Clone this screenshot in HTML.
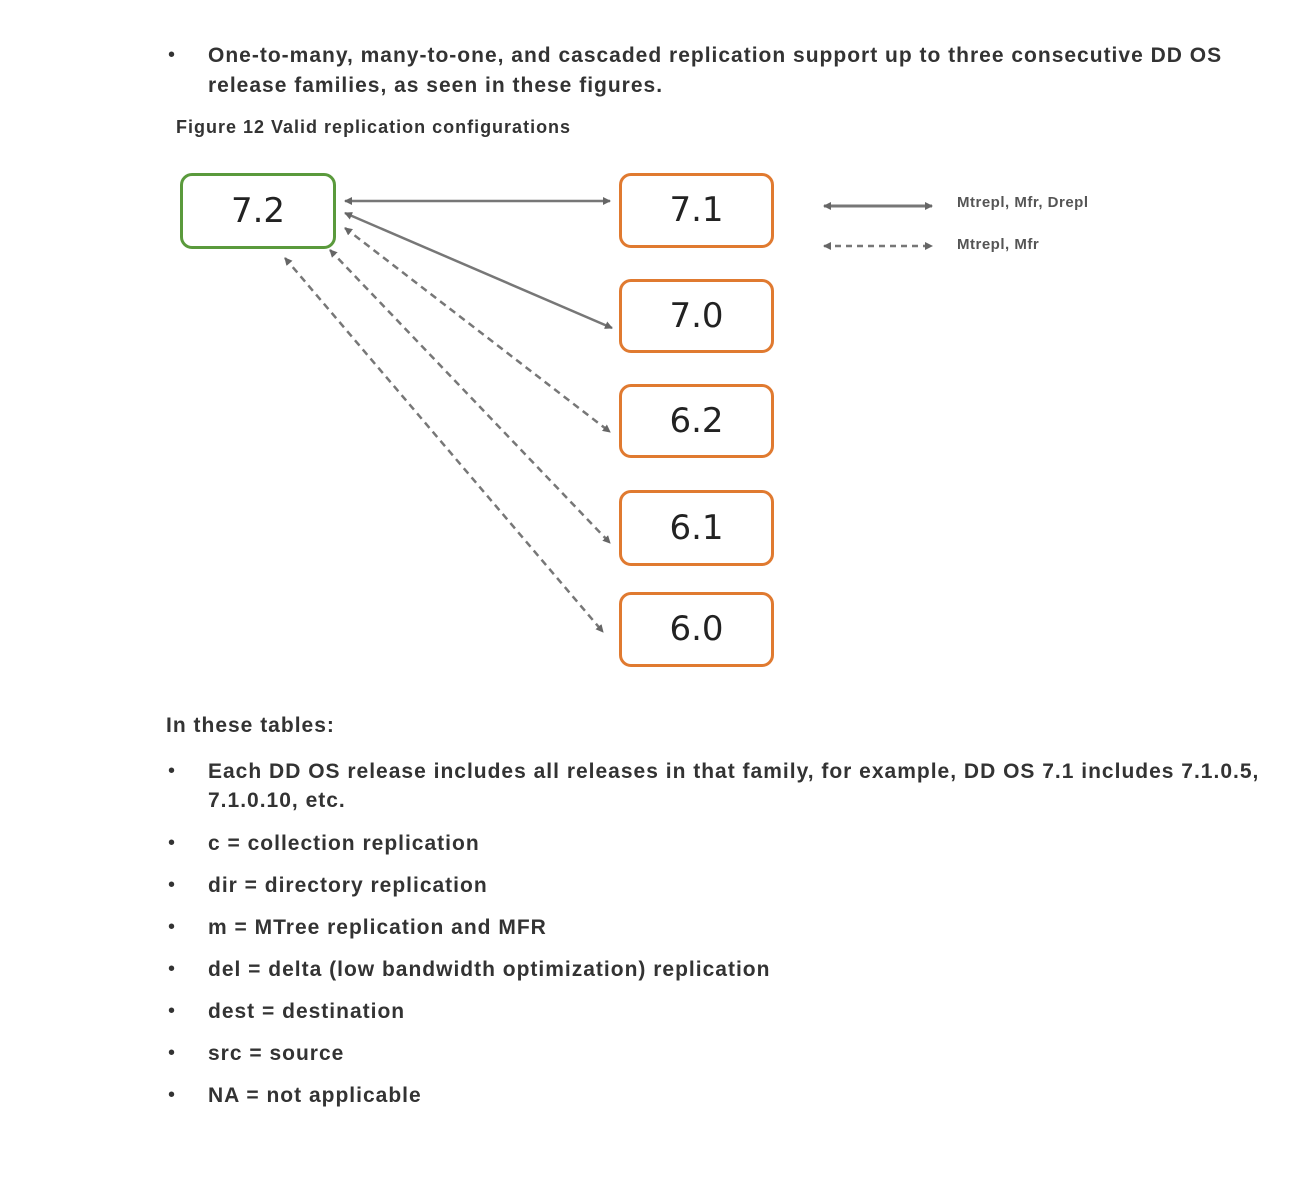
<!DOCTYPE html>
<html><head><style>
body{margin:0;width:1300px;height:1198px;background:#fff;position:relative;font-family:"Liberation Sans",sans-serif;color:#333;overflow:hidden}
.t{position:absolute;font-size:21px;white-space:nowrap;letter-spacing:1px;font-weight:bold;transform-origin:0 0}
.b{position:absolute;font-size:20px}
.box{position:absolute;border:3px solid #e07a30;border-radius:12px;box-sizing:border-box;font-size:34px;text-align:center;font-family:"DejaVu Sans",sans-serif;color:#222}
</style></head><body>
<div class="b" style="left:168px;top:44px">•</div>
<div class="t" style="left:208px;top:44px">One-to-many, many-to-one, and cascaded replication support up to three consecutive DD OS</div>
<div class="t" style="left:208px;top:74px">release families, as seen in these figures.</div>
<div class="t" style="left:176px;top:117px;font-size:18px">Figure 12 Valid replication configurations</div>

<div class="box" style="left:180px;top:173px;width:156px;height:76px;line-height:70px;border-color:#5a9a3c">7.2</div>
<div class="box" style="left:619px;top:173px;width:155px;height:75px;line-height:69px">7.1</div>
<div class="box" style="left:619px;top:279px;width:155px;height:74px;line-height:68px">7.0</div>
<div class="box" style="left:619px;top:384px;width:155px;height:74px;line-height:68px">6.2</div>
<div class="box" style="left:619px;top:490px;width:155px;height:76px;line-height:70px">6.1</div>
<div class="box" style="left:619px;top:592px;width:155px;height:75px;line-height:69px">6.0</div>

<svg width="1300" height="1198" style="position:absolute;left:0;top:0">
<defs><marker id="a" markerWidth="8" markerHeight="8" refX="7" refY="4" orient="auto-start-reverse" markerUnits="userSpaceOnUse"><path d="M0,0 L8,4 L0,8z" fill="#666"/></marker></defs>
<g stroke="#777" stroke-width="2.5" fill="none" marker-start="url(#a)" marker-end="url(#a)">
<line x1="345" y1="201" x2="610" y2="201"/>
<line x1="345" y1="213" x2="612" y2="328"/>
<line x1="345" y1="228" x2="610" y2="432" stroke-dasharray="7,5"/>
<line x1="330" y1="250" x2="610" y2="543" stroke-dasharray="7,5"/>
<line x1="285" y1="258" x2="603" y2="632" stroke-dasharray="7,5"/>
<line x1="824" y1="206" x2="932" y2="206" stroke-width="3"/>
<line x1="824" y1="246" x2="932" y2="246" stroke-dasharray="6,5"/>
</g>
</svg>
<div class="t" style="left:957px;top:194px;font-size:15px;color:#555;letter-spacing:0.5px">Mtrepl, Mfr, Drepl</div>
<div class="t" style="left:957px;top:236px;font-size:15px;color:#555;letter-spacing:0.5px">Mtrepl, Mfr</div>

<div class="t" style="left:166px;top:714px">In these tables:</div>
<div class="b" style="left:168px;top:760px">•</div>
<div class="t" style="left:208px;top:760px">Each DD OS release includes all releases in that family, for example, DD OS 7.1 includes 7.1.0.5,</div>
<div class="t" style="left:208px;top:789px">7.1.0.10, etc.</div>
<div class="b" style="left:168px;top:832px">•</div><div class="t" style="left:208px;top:832px">c = collection replication</div>
<div class="b" style="left:168px;top:874px">•</div><div class="t" style="left:208px;top:874px">dir = directory replication</div>
<div class="b" style="left:168px;top:916px">•</div><div class="t" style="left:208px;top:916px">m = MTree replication and MFR</div>
<div class="b" style="left:168px;top:958px">•</div><div class="t" style="left:208px;top:958px">del = delta (low bandwidth optimization) replication</div>
<div class="b" style="left:168px;top:1000px">•</div><div class="t" style="left:208px;top:1000px">dest = destination</div>
<div class="b" style="left:168px;top:1042px">•</div><div class="t" style="left:208px;top:1042px">src = source</div>
<div class="b" style="left:168px;top:1084px">•</div><div class="t" style="left:208px;top:1084px">NA = not applicable</div>
</body></html>
